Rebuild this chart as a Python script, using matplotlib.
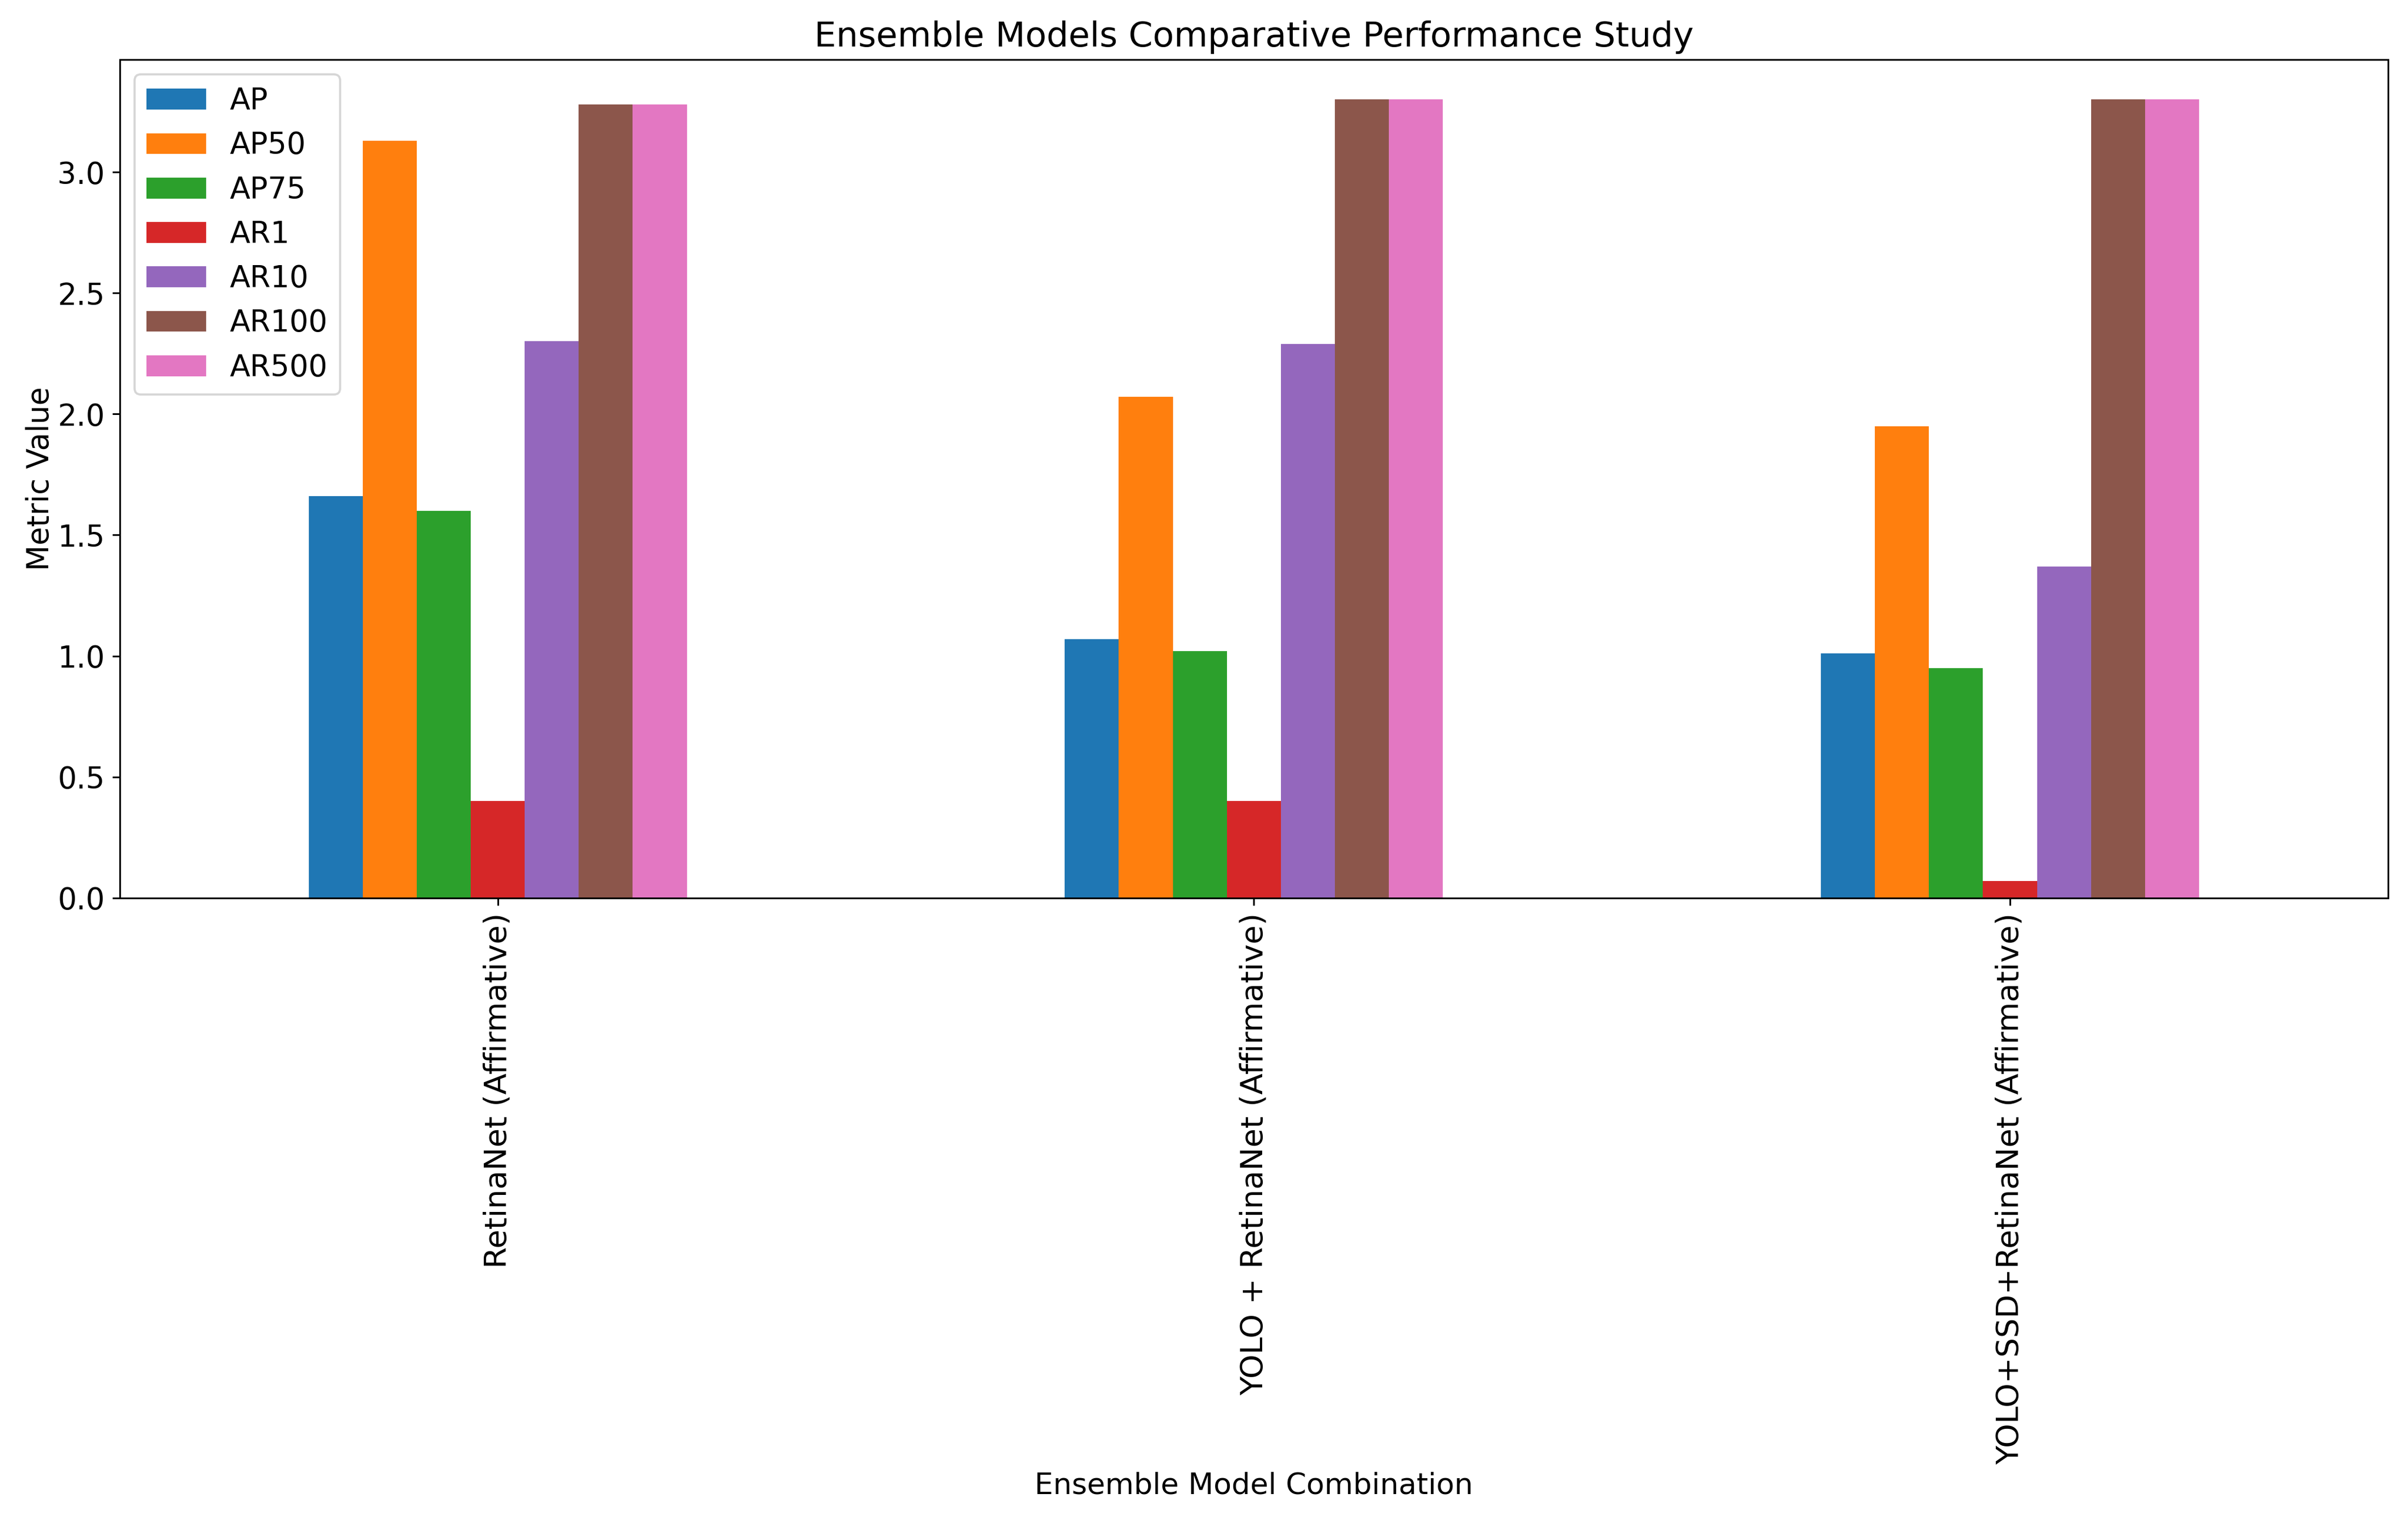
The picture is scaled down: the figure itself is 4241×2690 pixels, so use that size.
import pandas as pd
import matplotlib
matplotlib.use("Agg")
import matplotlib.pyplot as plt

# 앙상블 모델 조합
models = ['RetinaNet (Affirmative)',
          'YOLO + RetinaNet (Affirmative)',
          'YOLO+SSD+RetinaNet (Affirmative)']

# 지표 값
AP    = [1.66, 1.07, 1.01]
AP50  = [3.13, 2.07, 1.95]
AP75  = [1.60, 1.02, 0.95]
AR1   = [0.40, 0.40, 0.07]
AR10  = [2.30, 2.29, 1.37]
AR100 = [3.28, 3.30, 3.30]
AR500 = [3.28, 3.30, 3.30]

df = pd.DataFrame({'AP': AP, 'AP50': AP50, 'AP75': AP75, 'AR1': AR1,
                   'AR10': AR10, 'AR100': AR100, 'AR500': AR500}, index=models)

fig, ax = plt.subplots(figsize=(4241 / 270, 2690 / 270), dpi=270)
df.plot(kind='bar', ax=ax)

ax.set_title('Ensemble Models Comparative Performance Study', fontsize=16.3)
ax.set_xlabel('Ensemble Model Combination', fontsize=13.8, labelpad=3.5)
ax.set_ylabel('Metric Value', fontsize=14, labelpad=1)
ax.tick_params(axis='x', labelsize=14.5)
ax.tick_params(axis='y', labelsize=14)
ax.legend(loc='upper left', fontsize=14)

fig.subplots_adjust(left=0.0497, right=0.9917, top=0.961, bottom=0.412)
fig.savefig('out.png', dpi=270)
